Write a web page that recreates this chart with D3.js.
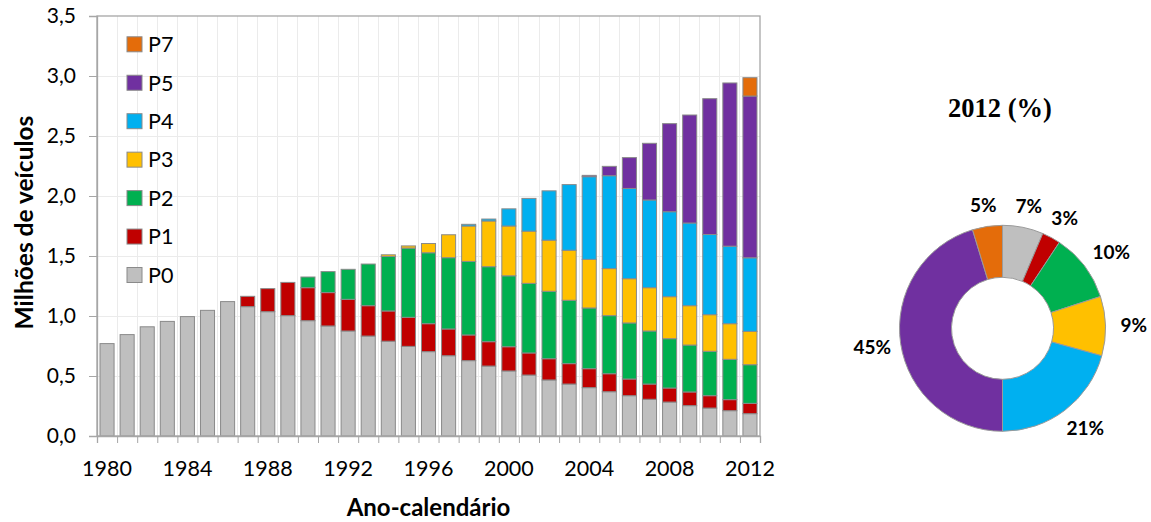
<!DOCTYPE html>
<html><head><meta charset="utf-8">
<script src="https://cdn.jsdelivr.net/npm/d3@7"></script>
<style>
body{margin:0;background:#fff;}
svg{display:block;}
text{fill:#000;}
</style>
</head><body>
<svg id="c" width="1151" height="522"></svg>
<script>
// ---------- data ----------
const years = [1980,1981,1982,1983,1984,1985,1986,1987,1988,1989,1990,1991,1992,1993,1994,1995,1996,1997,1998,1999,2000,2001,2002,2003,2004,2005,2006,2007,2008,2009,2010,2011,2012];
const seriesKeys = ["P0","P1","P2","P3","P4","P5","P7"];
const legendOrder = ["P7","P5","P4","P3","P2","P1","P0"];
const seriesColors = ["#bfbfbf","#c00000","#00b050","#ffc000","#00b0f0","#7030a0","#e46c0a"];
// millions of vehicles per class (segment heights)
const P0 = [0.77,0.845,0.91,0.955,0.995,1.047,1.12,1.078,1.036,1.003,0.961,0.917,0.875,0.833,0.79,0.747,0.703,0.669,0.628,0.583,0.542,0.508,0.467,0.433,0.403,0.369,0.336,0.306,0.283,0.253,0.233,0.211,0.186];
const P1 = [0,0,0,0,0,0,0,0.086,0.192,0.277,0.275,0.278,0.264,0.253,0.252,0.242,0.233,0.223,0.214,0.203,0.202,0.184,0.177,0.17,0.158,0.15,0.139,0.127,0.117,0.114,0.103,0.092,0.086];
const P2 = [0,0,0,0,0,0,0,0,0,0,0.089,0.175,0.25,0.347,0.454,0.577,0.591,0.594,0.613,0.625,0.591,0.58,0.562,0.528,0.506,0.484,0.467,0.442,0.411,0.391,0.37,0.336,0.322];
const P3 = [0,0,0,0,0,0,0,0,0,0,0,0,0,0,0.014,0.018,0.077,0.191,0.295,0.381,0.415,0.435,0.426,0.417,0.405,0.392,0.369,0.361,0.35,0.328,0.305,0.297,0.278];
const P4 = [0,0,0,0,0,0,0,0,0,0,0,0,0,0,0,0,0,0,0.014,0.016,0.143,0.273,0.411,0.547,0.689,0.774,0.752,0.731,0.708,0.689,0.668,0.646,0.613];
const P5 = [0,0,0,0,0,0,0,0,0,0,0,0,0,0,0,0,0,0,0,0,0,0,0,0,0.011,0.078,0.257,0.472,0.734,0.9,1.132,1.36,1.348];
const P7 = [0,0,0,0,0,0,0,0,0,0,0,0,0,0,0,0,0,0,0,0,0,0,0,0,0,0,0,0,0,0,0,0,0.153];
const yTicks = [0,0.5,1.0,1.5,2.0,2.5,3.0,3.5];
const xLabelYears = [1980,1984,1988,1992,1996,2000,2004,2008,2012];
// donut 2012 shares (%) and printed labels
const share2012 = [6.4,2.9,10.7,9.3,20.7,45.3,4.7];
const share2012Labels = ["7%","3%","10%","9%","21%","45%","5%"];
const yTitle = "Milhões de veículos";
const xTitle = "Ano-calendário";
const donutTitle = "2012 (%)";

// ---------- build ----------
const seriesArrays = {P0,P1,P2,P3,P4,P5,P7};
const table = years.map((y,i)=>{const o={year:y}; seriesKeys.forEach(k=>o[k]=seriesArrays[k][i]); return o;});
const color = d3.scaleOrdinal().domain(seriesKeys).range(seriesColors);

const svg = d3.select("#c");
const L=97, R=760, T=16, B=436;
const FONT = "Lato, 'Open Sans', sans-serif";

const x = d3.scaleBand().domain(years).range([L,R]).paddingInner(0.3).paddingOuter(0.15);
const xb = d3.scaleLinear().domain([0,years.length]).range([L,R]);
const y = d3.scaleLinear().domain([0,3.5]).range([B,T]);
const locale = d3.formatLocale({decimal:",",thousands:".",grouping:[3],currency:["R$",""]});
const fmt = locale.format(".1f");

// grid
const grid = svg.append("g");
grid.selectAll("line.v").data(d3.range(1,years.length)).join("line")
  .attr("x1",d=>xb(d)).attr("x2",d=>xb(d)).attr("y1",T).attr("y2",B)
  .attr("stroke","#ebebeb").attr("stroke-width",1).attr("shape-rendering","crispEdges");
grid.selectAll("line.h").data(yTicks.slice(1,-1)).join("line")
  .attr("x1",L).attr("x2",R).attr("y1",d=>y(d)).attr("y2",d=>y(d))
  .attr("stroke","#ebebeb").attr("stroke-width",1).attr("shape-rendering","crispEdges");

// bars
const stacked = d3.stack().keys(seriesKeys)(table);
svg.append("g").selectAll("g").data(stacked).join("g")
  .attr("fill",d=>color(d.key))
  .selectAll("rect").data(d=>d.filter(s=>s[1]-s[0]>0)).join("rect")
  .attr("x",d=>x(d.data.year)).attr("width",x.bandwidth())
  .attr("y",d=>y(d[1])).attr("height",d=>y(d[0])-y(d[1]))
  .attr("stroke","#8a8a8a").attr("stroke-width",1);

// frame
svg.append("rect").attr("x",L).attr("y",T).attr("width",R-L).attr("height",B-T)
  .attr("fill","none").attr("stroke","#a6a6a6").attr("stroke-width",1.3);

// y axis
const ya = svg.append("g").attr("transform",`translate(${L},0)`)
  .call(d3.axisLeft(y).tickValues(yTicks).tickSize(8).tickPadding(13).tickFormat(fmt));
ya.select(".domain").attr("stroke","#a6a6a6").attr("stroke-width",1.3);
ya.selectAll(".tick line").attr("stroke","#a6a6a6");
ya.selectAll("text").attr("font-family",FONT).attr("font-size",21).attr("fill","#111");

// x axis ticks (band boundaries)
const xt = svg.append("g").attr("transform",`translate(0,${B})`)
  .call(d3.axisBottom(xb).tickValues(d3.range(0,years.length+1)).tickSize(7).tickFormat(""));
xt.select(".domain").attr("stroke","#a6a6a6").attr("stroke-width",1.3);
xt.selectAll(".tick line").attr("stroke","#a6a6a6");
// x labels
const xl = svg.append("g").attr("transform",`translate(0,${B})`)
  .call(d3.axisBottom(x).tickValues(xLabelYears).tickSize(0).tickPadding(25));
xl.select(".domain").remove();
xl.selectAll("text").attr("font-family",FONT).attr("font-size",21.5).attr("fill","#111");

// axis titles
svg.append("text").attr("transform",`translate(33,${(113+332)/2}) rotate(-90)`)
  .attr("text-anchor","middle").attr("font-family",FONT).attr("font-weight","bold")
  .attr("font-size",24.5).text(yTitle);
svg.append("text").attr("x",(L+R)/2).attr("y",516)
  .attr("text-anchor","middle").attr("font-family",FONT).attr("font-weight","bold")
  .attr("font-size",24).text(xTitle);

// legend
const lg = svg.append("g");
const legY = d3.scalePoint().domain(legendOrder).range([44.3,275]);
const li = lg.selectAll("g").data(legendOrder).join("g")
  .attr("transform",d=>`translate(127,${legY(d)})`);
li.append("rect").attr("x",0).attr("y",-7.5).attr("width",15).attr("height",15)
  .attr("fill",d=>color(d)).attr("stroke","#8a8a8a").attr("stroke-width",1);
li.append("text").attr("x",21).attr("dy","0.36em").attr("font-family",FONT)
  .attr("font-size",21.5).attr("fill","#111").text(d=>d);

// donut
const cx=1002.5, cy=328.3, rO=103, rI=51;
const pie = d3.pie().sort(null).value(d=>d.v);
const pieData = pie(seriesKeys.map((k,i)=>({k, v:share2012[i], label:share2012Labels[i]})));
const arc = d3.arc().innerRadius(rI).outerRadius(rO);
const dg = svg.append("g").attr("transform",`translate(${cx},${cy})`);
dg.selectAll("path").data(pieData).join("path")
  .attr("d",arc).attr("fill",d=>color(d.data.k))
  .attr("stroke","#9a9a9a").attr("stroke-width",1);
const labFont = 19;
dg.selectAll("text").data(pieData).join("text")
  .attr("font-family",FONT).attr("font-weight","bold").attr("font-size",labFont)
  .attr("text-anchor","middle").attr("dy","0.36em").attr("fill","#111")
  .text(d=>d.data.label)
  .each(function(d){
    const a=(d.startAngle+d.endAngle)/2, s=Math.sin(a), c=Math.cos(a);
    const bb=this.getBBox(); const w=bb.width, h=14, r0=118;
    d3.select(this).attr("x", s*r0 + s*w/2 + (s<-0.9?5:0)).attr("y", -c*r0 - c*h/2);
  });
svg.append("text").attr("x",1000).attr("y",117).attr("text-anchor","middle")
  .attr("font-family","'Liberation Serif', 'Times New Roman', serif").attr("font-weight","bold")
  .attr("font-size",26.5).text(donutTitle);
</script>
</body></html>
